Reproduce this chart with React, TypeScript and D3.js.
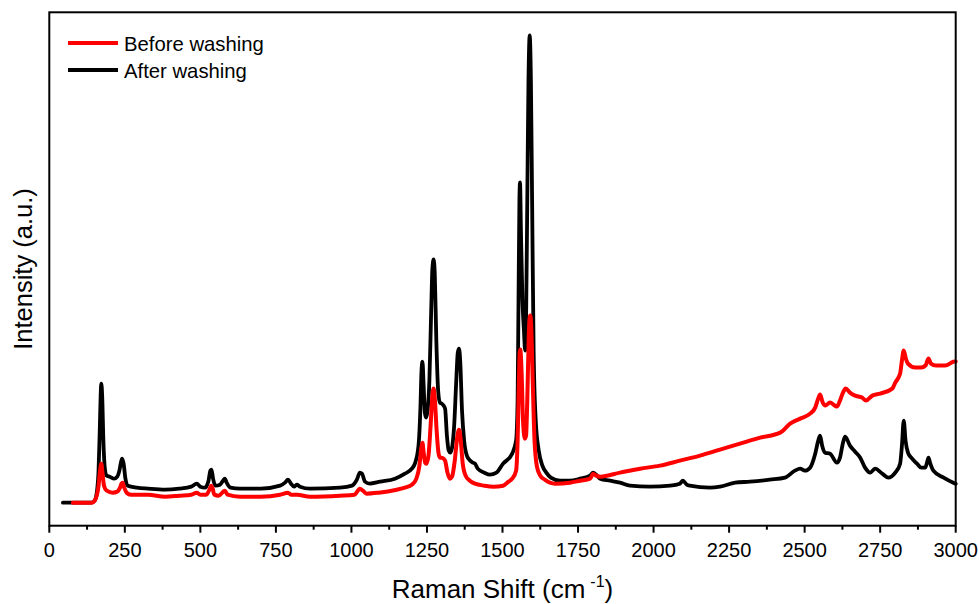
import React from "react";
import * as d3 from "d3";

// Raman shift (cm^-1) and intensity (a.u.)
const afterShift = [45,80,140,150,158,163,167,170,172,175,179,184,190,200,215,225,232,237,241,246,252,260,290,327,383,430,470,488,500,515,527,533,537,542,550,565,575,581,587,600,631,700,764,780,790,800,810,819,830,863,962,1002,1018,1028,1035,1045,1060,1095,1144,1177,1200,1210,1222,1228,1232,1235,1239,1243,1247,1252,1258,1264,1268,1272,1276,1281,1287,1293,1299,1305,1310,1316,1322,1327,1333,1340,1347,1352,1356,1360,1366,1373,1382,1393,1402,1409,1418,1440,1458,1480,1502,1532,1545,1550,1553,1556,1558,1561,1566,1571,1575,1578,1582,1586,1590,1594,1598,1603,1610,1620,1632,1645,1660,1690,1723,1757,1790,1800,1810,1823,1856,1889,1922,1988,2055,2087,2097,2110,2120,2187,2220,2270,2319,2385,2435,2468,2485,2501,2518,2535,2545,2551,2558,2568,2584,2607,2617,2627,2634,2650,2667,2684,2700,2717,2733,2757,2777,2800,2816,2822,2828,2834,2842,2853,2872,2886,2899,2905,2910,2915,2926,2960,2992,3000];
const afterIntensity = [23,23,23,25,35,55,95,130,142,130,85,57,50,49,47,49,55,63,67,62,47,40,38,37,36,37,39,42,39,38,45,55,56,47,40,41,45,47,43,38,37,37,40,43,46,42,39,41,39,37,38,40,46,53,52,44,42,44,47,52,57,62,80,115,155,164,140,113,108,115,145,215,257,266,250,185,135,123,122,120,117,90,75,73,78,100,145,173,177,165,115,85,70,65,63,62,57,53,51,53,62,72,85,125,225,325,343,295,225,195,175,205,325,445,490,445,325,175,105,75,60,53,48,45,45,47,50,53,51,47,45,43,40,39,40,42,45,41,40,38,39,43,44,46,48,55,57,55,58,72,85,90,80,73,72,63,68,83,89,80,74,68,58,53,57,52,48,53,62,80,105,85,73,68,62,58,58,63,68,63,55,48,43,42];

const beforeShift = [78,140,150,158,163,168,172,176,181,190,210,225,234,239,243,248,256,270,327,383,430,470,488,500,520,530,536,540,546,560,581,590,631,700,764,790,800,820,863,962,1010,1028,1038,1050,1090,1150,1177,1200,1215,1225,1231,1235,1239,1244,1248,1255,1262,1268,1272,1276,1282,1288,1293,1299,1305,1310,1318,1326,1333,1342,1350,1356,1361,1368,1378,1392,1409,1440,1470,1502,1520,1532,1545,1550,1554,1557,1559,1563,1568,1574,1578,1582,1587,1590,1592,1595,1600,1606,1614,1625,1640,1657,1674,1723,1757,1790,1800,1810,1823,1889,1955,2021,2087,2154,2220,2286,2353,2419,2452,2485,2518,2535,2545,2551,2560,2568,2584,2600,2607,2617,2627,2636,2650,2667,2690,2703,2724,2750,2790,2800,2816,2822,2828,2835,2842,2866,2886,2900,2910,2918,2935,2965,2996,3000];
const beforeIntensity = [23,23,25,31,40,55,62,53,40,35,33,34,38,42,43,38,33,31,31,29,30,31,33,31,31,36,40,38,31,30,35,31,29,29,31,33,31,31,29,30,31,37,35,32,33,36,38,41,47,60,77,83,73,63,62,70,100,130,137,127,95,73,68,68,67,65,53,47,49,65,88,96,88,63,50,45,42,40,39,40,44,47,55,85,140,173,176,155,105,87,90,125,190,208,210,200,145,85,59,50,46,43,42,43,45,47,52,50,49,53,57,60,65,70,76,82,88,93,102,107,112,118,127,131,123,120,123,120,119,125,133,137,133,130,128,125,130,132,137,143,152,165,175,167,162,158,158,160,167,162,160,160,164,164];

const xTicks = [0,250,500,750,1000,1250,1500,1750,2000,2250,2500,2750,3000];
const xMinorTicks = [125,375,625,875,1125,1375,1625,1875,2125,2375,2625,2875];
const seriesNames = ["Before washing", "After washing"];
const seriesColors = ["#ff0000", "#000000"];

const W = 979, H = 604;
const L = 49.3, R = 955.7, T = 12.3, B = 525.7;

export default function App() {
  const x = d3.scaleLinear().domain([0, 3000]).range([L, R]);
  const y = d3.scaleLinear().domain([0, 513]).range([B, T]);
  const line = d3.line<[number, number]>()
    .x(d => x(d[0]))
    .y(d => y(d[1]))
    .curve(d3.curveMonotoneX);
  const after = afterShift.map((s, i) => [s, afterIntensity[i]] as [number, number]);
  const before = beforeShift.map((s, i) => [s, beforeIntensity[i]] as [number, number]);
  const font = "'Liberation Sans', Arial, sans-serif";
  return (
    <svg width={W} height={H} style={{ position: "absolute", left: 0, top: 0, background: "#fff" }} fontFamily={font}>
      <rect x={0} y={0} width={W} height={H} fill="#fff" />
      <path d={line(after) || ""} fill="none" stroke={seriesColors[1]} strokeWidth={3.8} strokeLinejoin="round" strokeLinecap="round" />
      <path d={line(before) || ""} fill="none" stroke={seriesColors[0]} strokeWidth={4} strokeLinejoin="round" strokeLinecap="round" />
      <rect x={L} y={T} width={R - L} height={B - T} fill="none" stroke="#000" strokeWidth={2} />
      {xTicks.map(t => (
        <g key={"M" + t}>
          <line x1={x(t)} x2={x(t)} y1={B} y2={B + 7} stroke="#000" strokeWidth={2} />
          <text x={x(t)} y={557} textAnchor="middle" fontSize={20}>{t}</text>
        </g>
      ))}
      {xMinorTicks.map(t => (
        <line key={"m" + t} x1={x(t)} x2={x(t)} y1={B} y2={B + 4} stroke="#000" strokeWidth={2} />
      ))}
      <text x={(L + R) / 2} y={598} textAnchor="middle" fontSize={26}>
        Raman Shift (cm<tspan fontSize={16} dy={-11} dx={5}>-1</tspan><tspan dy={11}>)</tspan>
      </text>
      <text transform={`translate(32, ${(T + B) / 2}) rotate(-90)`} textAnchor="middle" fontSize={25.5}>Intensity (a.u.)</text>
      {seriesNames.map((n, i) => (
        <g key={n}>
          <line x1={68} x2={118} y1={43 + i * 27} y2={43 + i * 27} stroke={seriesColors[i]} strokeWidth={4} />
          <text x={124} y={50.5 + i * 27} fontSize={20.3}>{n}</text>
        </g>
      ))}
    </svg>
  );
}
